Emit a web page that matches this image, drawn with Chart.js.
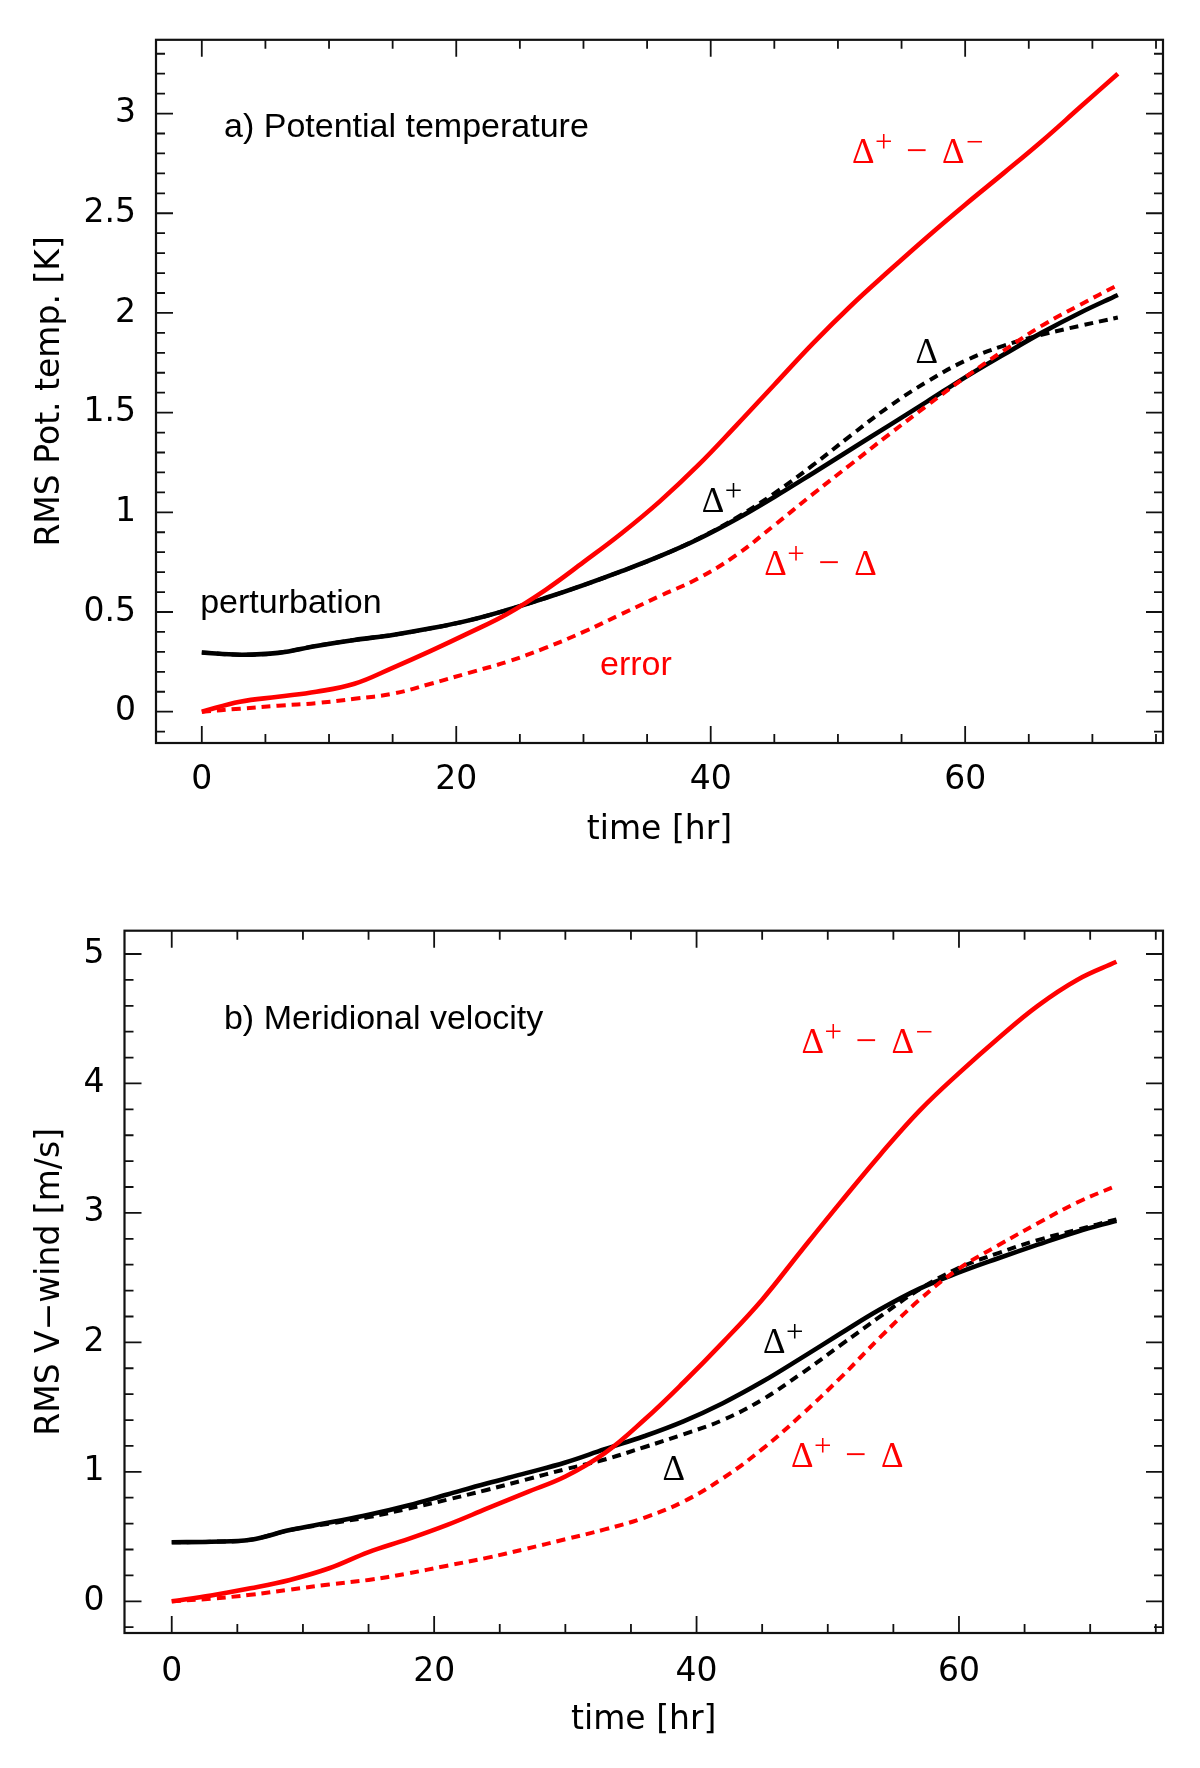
<!DOCTYPE html>
<html>
<head>
<meta charset="utf-8">
<title>RMS perturbation and error growth</title>
<script src="https://cdn.jsdelivr.net/npm/chart.js@4.4.1/dist/chart.umd.min.js"></script>
<style>
  body { margin: 0; background: #fff; }
  #wrap { position: relative; width: 1200px; height: 1768px; }
  canvas { position: absolute; left: 0; }
</style>
</head>
<body>
<div id="wrap">
  <canvas id="thetaChart" width="1200" height="884" style="top:0"></canvas>
  <canvas id="windChart" width="1200" height="884" style="top:884px"></canvas>
</div>
<script>
// forecast hour of every sample
const hours = [0, 3, 6, 9, 12, 15, 18, 21, 24, 27, 30, 33, 36, 39, 42, 45, 48, 51, 54, 57, 60, 63, 66, 69, 72];

// a) potential temperature, RMS [K]
const thetaPert  = [0.297, 0.286, 0.295, 0.33, 0.36, 0.385, 0.418, 0.458, 0.51, 0.57, 0.635, 0.705, 0.78, 0.865, 0.965, 1.077, 1.195, 1.315, 1.435, 1.555, 1.677, 1.79, 1.9, 2.0, 2.09];
const thetaDelta = [0.297, 0.286, 0.295, 0.33, 0.36, 0.385, 0.418, 0.458, 0.51, 0.57, 0.635, 0.705, 0.78, 0.867, 0.972, 1.095, 1.235, 1.385, 1.53, 1.655, 1.76, 1.835, 1.89, 1.935, 1.977];
const thetaDiff  = [0, 0.05, 0.075, 0.1, 0.14, 0.22, 0.305, 0.395, 0.49, 0.61, 0.75, 0.895, 1.055, 1.235, 1.435, 1.64, 1.845, 2.035, 2.21, 2.38, 2.543, 2.7, 2.86, 3.03, 3.2];
const thetaErr   = [0, 0.015, 0.03, 0.043, 0.065, 0.09, 0.14, 0.195, 0.25, 0.32, 0.4, 0.49, 0.58, 0.668, 0.785, 0.935, 1.09, 1.24, 1.39, 1.535, 1.677, 1.81, 1.935, 2.04, 2.14];

// b) meridional velocity, RMS [m/s]
const windPert  = [0.456, 0.46, 0.475, 0.55, 0.608, 0.668, 0.74, 0.825, 0.91, 0.99, 1.072, 1.175, 1.275, 1.39, 1.53, 1.695, 1.88, 2.07, 2.255, 2.415, 2.54, 2.65, 2.755, 2.855, 2.94];
const windDelta = [0.456, 0.46, 0.475, 0.55, 0.6, 0.65, 0.715, 0.785, 0.86, 0.94, 1.02, 1.095, 1.19, 1.29, 1.4, 1.557, 1.76, 1.98, 2.2, 2.41, 2.575, 2.69, 2.79, 2.87, 2.95];
const windDiff  = [0, 0.045, 0.1, 0.165, 0.255, 0.38, 0.48, 0.59, 0.715, 0.84, 0.964, 1.144, 1.4, 1.69, 2.0, 2.33, 2.71, 3.085, 3.45, 3.79, 4.08, 4.35, 4.6, 4.8, 4.94];
const windErr   = [0, 0.02, 0.05, 0.09, 0.13, 0.165, 0.215, 0.275, 0.335, 0.405, 0.479, 0.555, 0.645, 0.77, 0.95, 1.175, 1.44, 1.73, 2.04, 2.33, 2.57, 2.75, 2.92, 3.08, 3.21];

// labelled ticks
const xTicks = [0, 20, 40, 60];
const thetaTicks = [0, 0.5, 1, 1.5, 2, 2.5, 3];
const windTicks = [0, 1, 2, 3, 4, 5];

const RED = '#ff0000';
const BLACK = '#000000';
const SANS = '"DejaVu Sans", sans-serif';
const LABEL = '34px "Liberation Sans", Arial, sans-serif';
const DELTA = '35px "Liberation Serif", "Times New Roman", serif';
const SUP = '31px "Liberation Serif", "Times New Roman", serif';
const MINUS = '38px "Liberation Serif", "Times New Roman", serif';

// pieces of the Greek labels, offsets in px from the anchor
const partDelta = { text: '\u0394', font: DELTA, dx: 0 };
const partPlus = { text: '+', font: SUP, dx: 23, rise: 11 };
const partMinus = { text: '\u2212', font: MINUS, dx: 54 };
const partDelta2 = { text: '\u0394', font: DELTA, dx: 90 };
const partSupMinus = { text: '\u2212', font: SUP, dx: 114, rise: 11 };

const labelPlusMinus = [partDelta, partPlus, partMinus, partDelta2, partSupMinus];
const labelPlusDelta = [partDelta, partPlus, partMinus, partDelta2];
const labelPlus = [partDelta, partPlus];
const labelDelta = [partDelta];

function series(values, color, dashed, order) {
  return {
    data: hours.map((h, i) => ({ x: h, y: values[i] })),
    borderColor: color,
    borderWidth: dashed ? 4 : 4.6,
    borderDash: dashed ? [9, 6] : [],
    borderCapStyle: 'butt',
    pointRadius: 0,
    fill: false,
    tension: 0.4,
    order: order
  };
}

// box and inward major/minor ticks on all four sides
function framePlugin(xMinor, xMajor, yMinor, yMajor) {
  return {
    id: 'frame',
    afterDatasetsDraw(chart) {
      const { ctx, chartArea: a, scales: { x, y } } = chart;
      const eps = 1e-6;
      ctx.save();
      ctx.strokeStyle = '#111';
      ctx.lineWidth = 1.8;
      ctx.beginPath();
      for (let i = Math.ceil(x.min / xMinor - eps); i <= Math.floor(x.max / xMinor + eps); i++) {
        const v = i * xMinor;
        const px = x.getPixelForValue(v);
        const r = v / xMajor;
        const len = Math.abs(r - Math.round(r)) < eps ? 17 : 9;
        ctx.moveTo(px, a.bottom); ctx.lineTo(px, a.bottom - len);
        ctx.moveTo(px, a.top); ctx.lineTo(px, a.top + len);
      }
      for (let i = Math.ceil(y.min / yMinor - eps); i <= Math.floor(y.max / yMinor + eps); i++) {
        const v = i * yMinor;
        const py = y.getPixelForValue(v);
        const r = v / yMajor;
        const len = Math.abs(r - Math.round(r)) < eps ? 17 : 9;
        ctx.moveTo(a.left, py); ctx.lineTo(a.left + len, py);
        ctx.moveTo(a.right, py); ctx.lineTo(a.right - len, py);
      }
      ctx.stroke();
      ctx.lineWidth = 2.2;
      ctx.strokeRect(a.left, a.top, a.right - a.left, a.bottom - a.top);
      ctx.restore();
    }
  };
}

// text notes placed at data coordinates
function notesPlugin(notes) {
  return {
    id: 'notes',
    afterDatasetsDraw(chart) {
      const { ctx, scales: { x, y } } = chart;
      ctx.save();
      ctx.textBaseline = 'alphabetic';
      ctx.textAlign = 'left';
      notes.forEach(n => {
        const px = x.getPixelForValue(n.at[0]);
        const py = y.getPixelForValue(n.at[1]);
        ctx.fillStyle = n.color;
        n.parts.forEach(p => {
          ctx.font = p.font;
          ctx.fillText(p.text, px + (p.dx || 0), py - (p.rise || 0));
        });
      });
      ctx.restore();
    }
  };
}

function options(cfg) {
  const tickFont = { family: SANS, size: 33 };
  return {
    responsive: false,
    animation: false,
    devicePixelRatio: 1,
    layout: { padding: cfg.padding },
    plugins: { legend: { display: false }, tooltip: { enabled: false } },
    scales: {
      x: {
        type: 'linear',
        min: -3.6,
        max: 75.55,
        afterBuildTicks: s => { s.ticks = xTicks.map(v => ({ value: v })); },
        afterFit: s => { s.height = 106.8; },
        grid: { display: false, drawTicks: false },
        border: { display: false },
        ticks: { color: BLACK, font: tickFont, padding: cfg.xPad, maxRotation: 0, autoSkip: false },
        title: { display: true, text: 'time [hr]', color: BLACK, font: tickFont, padding: 0 }
      },
      y: {
        type: 'linear',
        min: cfg.yMin,
        max: cfg.yMax,
        afterBuildTicks: s => { s.ticks = cfg.yTicks.map(v => ({ value: v })); },
        afterFit: s => { s.width = cfg.yWidth; },
        grid: { display: false, drawTicks: false },
        border: { display: false },
        ticks: { color: BLACK, font: tickFont, padding: 20, callback: v => String(v) },
        title: { display: true, text: cfg.yTitle, color: BLACK, font: tickFont, padding: { top: 31, bottom: 0 } }
      }
    }
  };
}

new Chart(document.getElementById('thetaChart'), {
  type: 'line',
  data: {
    datasets: [
      series(thetaErr, RED, true, 0),
      series(thetaDiff, RED, false, 1),
      series(thetaDelta, BLACK, true, 2),
      series(thetaPert, BLACK, false, 3)
    ]
  },
  options: options({
    padding: { left: 0, top: 38, right: 37, bottom: 34.2 },
    yMin: -0.157, yMax: 3.37, yTicks: thetaTicks, yWidth: 156, xPad: 18,
    yTitle: 'RMS Pot. temp. [K]'
  }),
  plugins: [
    framePlugin(5, 20, 0.1, 0.5),
    notesPlugin([
      { at: [1.75, 2.88], color: BLACK, parts: [{ text: 'a) Potential temperature', font: LABEL }] },
      { at: [-0.13, 0.493], color: BLACK, parts: [{ text: 'perturbation', font: LABEL }] },
      { at: [31.3, 0.185], color: RED, parts: [{ text: 'error', font: LABEL }] },
      { at: [51.1, 2.75], color: RED, parts: labelPlusMinus },
      { at: [56.1, 1.75], color: BLACK, parts: labelDelta },
      { at: [39.3, 1.0], color: BLACK, parts: labelPlus },
      { at: [44.2, 0.685], color: RED, parts: labelPlusDelta }
    ])
  ]
});

new Chart(document.getElementById('windChart'), {
  type: 'line',
  data: {
    datasets: [
      series(windErr, RED, true, 0),
      series(windDiff, RED, false, 1),
      series(windDelta, BLACK, true, 2),
      series(windPert, BLACK, false, 3)
    ]
  },
  options: options({
    padding: { left: 0, top: 46.7, right: 37, bottom: 28.2 },
    yMin: -0.245, yMax: 5.18, yTicks: windTicks, yWidth: 124.5, xPad: 20,
    yTitle: 'RMS V\u2212wind [m/s]'
  }),
  plugins: [
    framePlugin(5, 20, 0.2, 1),
    notesPlugin([
      { at: [3.98, 4.42], color: BLACK, parts: [{ text: 'b) Meridional velocity', font: LABEL }] },
      { at: [48.0, 4.237], color: RED, parts: labelPlusMinus },
      { at: [45.06, 1.917], color: BLACK, parts: labelPlus },
      { at: [47.2, 1.034], color: RED, parts: labelPlusDelta },
      { at: [37.4, 0.94], color: BLACK, parts: labelDelta }
    ])
  ]
});
</script>
</body>
</html>
